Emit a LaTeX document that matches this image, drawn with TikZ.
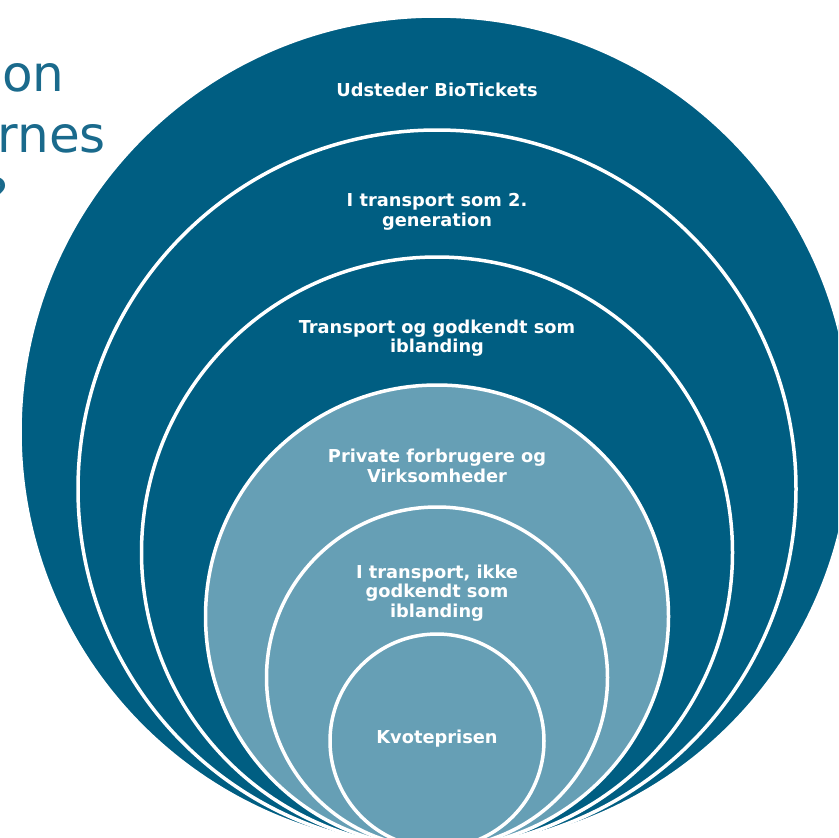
\documentclass[tikz,border=0pt]{standalone}
\usepackage{fontspec}
\setmainfont{DejaVu Sans}
\definecolor{darkteal}{HTML}{005E82}
\definecolor{lightteal}{HTML}{669FB5}
\definecolor{titleblue}{HTML}{1A6A8C}
\begin{document}
\begin{tikzpicture}[x=1pt,y=-1pt,
  ring/.style={circle, draw=white, line width=3.5pt, inner sep=0pt, minimum size=#1},
  lbl/.style={text=white, font=\bfseries\fontsize{17.8}{19.5}\selectfont, align=center, inner sep=0pt},
  ttl/.style={text=titleblue, font=\fontsize{50}{60}\selectfont, inner sep=0pt}]
\useasboundingbox (0,0) rectangle (838,838);
\clip (0,0) rectangle (838,838);
% title fragments
\node[ttl, anchor=base west] (t1) at (2,91) {on};
\node[ttl, anchor=base east] (t2) at (106,152) {rnes};
\node[ttl, anchor=base east] (t3) at (9,214) {?};
% nested circles tangent at the bottom
\node[ring=832pt, fill=darkteal] (c1) at (436,432) {};
\node[ring=718pt, fill=darkteal] (c2) at (437,489) {};
\node[ring=591pt, fill=darkteal] (c3) at (437,552.5) {};
\node[ring=463pt, fill=lightteal] (c4) at (437,616.5) {};
\node[ring=341pt, fill=lightteal] (c5) at (437,677.5) {};
\node[ring=214pt, fill=lightteal] (c6) at (437,741) {};
% labels
\node[lbl] (l1) at (437,90) {Udsteder BioTickets};
\node[lbl] (l2) at (437,212) {I transport som 2.\\generation};
\node[lbl] (l3) at (437,338) {Transport og godkendt som\\iblanding};
\node[lbl] (l4) at (437,466) {Private forbrugere og\\Virksomheder};
\node[lbl] (l5) at (437,593) {I transport, ikke\\godkendt som\\iblanding};
\node[lbl] (l6) at (437,739) {Kvoteprisen};
\end{tikzpicture}
\end{document}
